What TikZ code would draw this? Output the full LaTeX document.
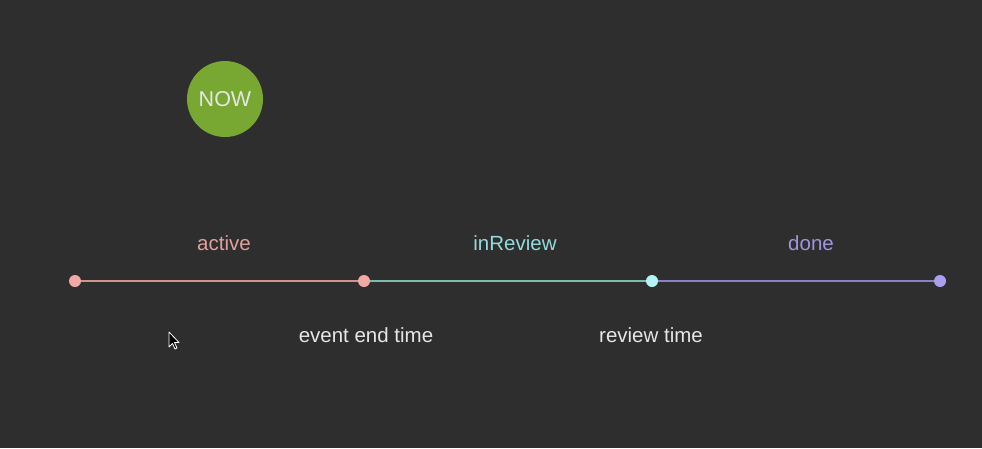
\documentclass[tikz,border=0pt]{standalone}
\usepackage{fontspec}
\setmainfont{Liberation Sans}
\definecolor{bg}{HTML}{2E2E2E}
\definecolor{pinkL}{HTML}{CF958C}
\definecolor{pinkD}{HTML}{F2A9A4}
\definecolor{pinkT}{HTML}{E0A09C}
\definecolor{tealL}{HTML}{7DBBAA}
\definecolor{tealD}{HTML}{B0F4F4}
\definecolor{tealT}{HTML}{92DCDC}
\definecolor{purL}{HTML}{8A80C6}
\definecolor{purD}{HTML}{A99EF2}
\definecolor{purT}{HTML}{9F95DC}
\definecolor{nowg}{HTML}{78A832}
\definecolor{txt}{HTML}{E6E6E6}
\begin{document}
\begin{tikzpicture}[x=1pt,y=-1pt,
  lbl/.style={font=\fontsize{20.5}{24}\selectfont, inner sep=0pt},
  dotn/.style={circle, inner sep=0pt, minimum size=12pt},
  seg/.style={line width=2.8pt}]
\fill[bg] (0,0) rectangle (982,448);
\useasboundingbox (0,0) rectangle (982,448);
% NOW circle
\node[circle, fill=nowg, minimum size=76pt, inner sep=0pt, text=txt,
      font=\fontsize{21.5}{24}\selectfont] (now) at (225,99) {NOW};
% dots
\coordinate (p1) at (75,281);
\coordinate (p2) at (364,281);
\coordinate (p3) at (652,281);
\coordinate (p4) at (940,281);
\draw[seg, pinkL] (p1) -- (p2);
\draw[seg, tealL] (p2) -- (p3);
\draw[seg, purL] (p3) -- (p4);
\node[dotn, fill=pinkD] (d1) at (p1) {};
\node[dotn, fill=pinkD] (d2) at (p2) {};
\node[dotn, fill=tealD] (d3) at (p3) {};
\node[dotn, fill=purD] (d4) at (p4) {};
% labels
\node[lbl, text=pinkT] (la) at (224,243) {active};
\node[lbl, text=tealT] (lr) at (515,243) {inReview};
\node[lbl, text=purT] (ld) at (811,243) {done};
\node[lbl, text=txt] (le) at (366,335) {event end time};
\node[lbl, text=txt] (lt) at (651,335) {review time};
% cursor
\draw[white, fill=black, line width=0.8pt, line join=round]
  (169,332) -- (169,347) -- (172.5,343.5) -- (175,349) -- (177,348) -- (174.5,342.5) -- (179,342.5) -- cycle;
\end{tikzpicture}
\end{document}
